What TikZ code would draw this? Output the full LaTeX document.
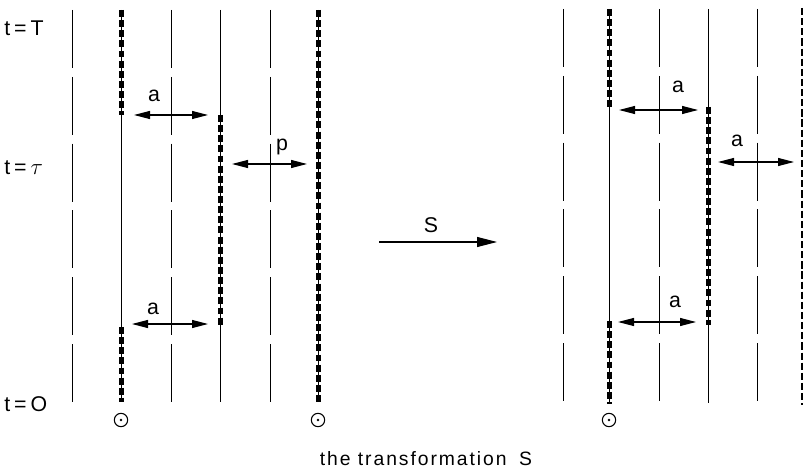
\documentclass[tikz,border=0pt]{standalone}
\usepackage{fontspec}
\setmainfont{Liberation Sans}[LetterSpace=6]
\newfontfamily\capfont{Liberation Sans}[LetterSpace=10]
\usetikzlibrary{arrows.meta}
\begin{document}
\begin{tikzpicture}[x=0.75pt,y=-0.75pt,
  world/.style={line width=0.75pt},
  ghost/.style={line width=0.75pt,dash pattern=on 43.5pt off 6.6pt},
  heavy/.style={line width=3.1pt,dash pattern=on 5.2pt off 2.4pt},
  edge/.style={line width=1.6pt,dash pattern=on 5.4pt off 2.2pt},
  gap/.style={line width=0.8pt,{Triangle[length=12pt,width=6pt]}-{Triangle[length=12pt,width=6pt]}},
  map/.style={line width=0.8pt,-{Triangle[length=15pt,width=7.5pt]}},
  lbl/.style={font=\fontsize{16}{18}\selectfont,inner sep=0pt},
  src/.style={circle,draw,line width=0.8pt,minimum size=10pt,inner sep=0pt,
    path picture={\fill (path picture bounding box.center) circle (1pt);}}]
\useasboundingbox (0,0) rectangle (803,474);

% time labels
\node[lbl,anchor=west] (tT) at (4,28) {t\hspace{3pt}=\hspace{3pt}T};
\node[lbl,anchor=west] (ttau) at (4,168) {t\hspace{3pt}=\hspace{3pt}$\tau$};
\node[lbl,anchor=west] (t0) at (4,404) {t\hspace{3pt}=\hspace{3pt}O};

% ---------- left configuration ----------
% light background world lines
\foreach \x/\n in {72/a,171/b,270/c}
  \draw[ghost] (\x,10) coordinate (L\n top) -- (\x,402) coordinate (L\n bot);

% first particle path: heavy, thin, heavy
\coordinate (P1top) at (121.5,10);
\coordinate (P1u) at (121.5,115);
\coordinate (P1d) at (121.5,327);
\coordinate (P1bot) at (121.5,402);
\draw[world] (P1top) -- (P1bot);
\draw[heavy] (P1top) -- (P1u);
\draw[heavy] (P1d) -- (P1bot);

% second particle path: thin, heavy, thin
\coordinate (P2top) at (220.5,10);
\coordinate (P2u) at (220.5,115);
\coordinate (P2d) at (220.5,327);
\coordinate (P2bot) at (220.5,402);
\draw[world] (P2top) -- (P2bot);
\draw[heavy] (P2u) -- (P2d);

% third particle path: heavy throughout
\coordinate (P3top) at (318.5,10);
\coordinate (P3bot) at (318.5,402);
\draw[world] (P3top) -- (P3bot);
\draw[heavy] (P3top) -- (P3bot);

% spacings
\coordinate (g1a) at (134,115); \coordinate (g1b) at (208,115);
\draw[gap] (g1a) -- (g1b);
\node[lbl] (la1) at (154,96) {a};
\coordinate (g2a) at (232,164); \coordinate (g2b) at (307,164);
\draw[gap] (g2a) -- (g2b);
\node[lbl] (lp) at (282,147) {p};
\coordinate (g3a) at (132,324); \coordinate (g3b) at (208,324);
\draw[gap] (g3a) -- (g3b);
\node[lbl] (la2) at (153,309) {a};

% sources
\node[src] (s1) at (121,420) {};
\node[src] (s2) at (318,420) {};

% ---------- the map ----------
\coordinate (m1) at (379,242);
\coordinate (m2) at (497,242);
\draw[map] (m1) -- (m2);
\node[lbl] (lS) at (431,225) {S};

% ---------- right configuration ----------
\foreach \x/\n in {563/a,659/b,757/c}
  \draw[ghost] (\x,9) coordinate (R\n top) -- (\x,403) coordinate (R\n bot);

\coordinate (Q1top) at (609.5,9);
\coordinate (Q1u) at (609.5,110);
\coordinate (Q1d) at (609.5,321);
\coordinate (Q1bot) at (609.5,404);
\draw[world] (Q1top) -- (Q1bot);
\draw[heavy] (Q1top) -- (Q1u);
\draw[heavy] (Q1d) -- (Q1bot);

\coordinate (Q2top) at (708.5,9);
\coordinate (Q2u) at (708.5,107);
\coordinate (Q2d) at (708.5,325);
\coordinate (Q2bot) at (708.5,403);
\draw[world] (Q2top) -- (Q2bot);
\draw[heavy] (Q2u) -- (Q2d);

\coordinate (Q3top) at (802.3,8);
\coordinate (Q3bot) at (802.3,405);
\draw[edge] (Q3top) -- (Q3bot);

\coordinate (h1a) at (619,110); \coordinate (h1b) at (698,110);
\draw[gap] (h1a) -- (h1b);
\node[lbl] (ra1) at (678,87) {a};
\coordinate (h2a) at (718,162); \coordinate (h2b) at (794,162);
\draw[gap] (h2a) -- (h2b);
\node[lbl] (ra2) at (737,141) {a};
\coordinate (h3a) at (618,322); \coordinate (h3b) at (696,322);
\draw[gap] (h3a) -- (h3b);
\node[lbl] (ra3) at (675,302) {a};

\node[src] (s3) at (609,420) {};

% caption
\node[lbl,font=\capfont\fontsize{14.5}{16}\selectfont] (cap) at (426,459) {the transformation\hspace{4pt} S};
\end{tikzpicture}
\end{document}
